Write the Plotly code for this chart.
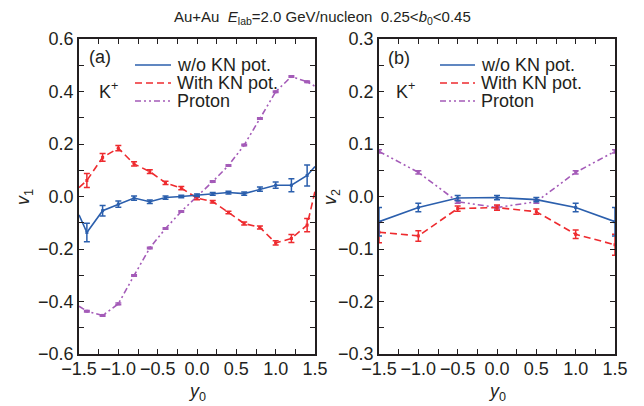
import plotly.graph_objects as go

# ---------------- data ----------------
# panel (a): v1 vs y0
xa = [-1.4, -1.2, -1.0, -0.8, -0.6, -0.4, -0.2, 0.0, 0.2, 0.4, 0.6, 0.8, 1.0, 1.2, 1.4]
v1_wo = [-0.137, -0.054, -0.029, -0.006, -0.020, -0.004, 0.000, 0.005, 0.010, 0.015, 0.011, 0.028, 0.043, 0.043, 0.080]
v1_wo_err = [0.035, 0.020, 0.012, 0.008, 0.007, 0.006, 0.005, 0.005, 0.005, 0.005, 0.006, 0.008, 0.012, 0.025, 0.040]
v1_with = [0.061, 0.149, 0.184, 0.124, 0.095, 0.052, 0.032, -0.006, -0.020, -0.061, -0.103, -0.118, -0.177, -0.160, -0.109]
v1_with_err = [0.027, 0.015, 0.010, 0.008, 0.007, 0.006, 0.006, 0.006, 0.005, 0.005, 0.006, 0.006, 0.008, 0.015, 0.025]
v1_p = [-0.437, -0.453, -0.409, -0.301, -0.196, -0.122, -0.057, 0.000, 0.057, 0.118, 0.196, 0.297, 0.399, 0.457, 0.437]
v1_p_err = [0.003] * 15
# values where the curves meet the frame (y0 = -1.5 and 1.5)
xa_edge = [-1.5, 1.5]
v1_wo_edge = [-0.070, 0.114]
v1_with_edge = [0.034, 0.020]
v1_p_edge = [-0.418, 0.420]

# panel (b): v2 vs y0
xb = [-1.5, -1.0, -0.5, 0.0, 0.5, 1.0, 1.5]
v2_wo = [-0.048, -0.021, -0.003, -0.002, -0.006, -0.021, -0.048]
v2_wo_err = [0.027, 0.008, 0.005, 0.004, 0.004, 0.008, 0.027]
v2_with = [-0.068, -0.075, -0.023, -0.021, -0.029, -0.072, -0.092]
v2_with_err = [0.020, 0.010, 0.005, 0.005, 0.005, 0.008, 0.020]
v2_p = [0.086, 0.046, -0.010, -0.021, -0.010, 0.046, 0.086]
v2_p_err = [0.003] * 7

names = ["w/o KN pot.", "With KN pot.", "Proton"]

# ---------------- styles ----------------
BLUE = "#2b5fad"
RED = "#ee2b2f"
PURPLE = "#a45bb8"
AX = "#231f20"
FONT = "Liberation Sans, Arial, sans-serif"
dash_red = "7px,4px"
dash_pur = "6px,3px,2px,3px,2px,3px"
colors = [BLUE, RED, PURPLE]
dashes = ["solid", dash_red, dash_pur]

fig = go.Figure()

def add_series(x, y, err, x_line, y_line, color, dash, name, xa_, ya_, width=1.6):
    fig.add_trace(go.Scatter(x=x_line, y=y_line, mode="lines", name=name, showlegend=False,
                             line=dict(color=color, width=width, dash=dash),
                             xaxis=xa_, yaxis=ya_))
    fig.add_trace(go.Scatter(x=x, y=y, mode="markers", showlegend=False,
                             marker=dict(color=color, size=3, symbol="square"),
                             error_y=dict(type="data", array=err, color=color,
                                          thickness=1.5, width=3),
                             xaxis=xa_, yaxis=ya_, hoverinfo="skip"))

# panel (a)
add_series(xa, v1_p, v1_p_err, [xa_edge[0]] + xa + [xa_edge[1]],
           [v1_p_edge[0]] + v1_p + [v1_p_edge[1]], PURPLE, dash_pur, names[2], "x", "y")
add_series(xa, v1_with, v1_with_err, [xa_edge[0]] + xa + [xa_edge[1]],
           [v1_with_edge[0]] + v1_with + [v1_with_edge[1]], RED, dash_red, names[1], "x", "y")
add_series(xa, v1_wo, v1_wo_err, [xa_edge[0]] + xa + [xa_edge[1]],
           [v1_wo_edge[0]] + v1_wo + [v1_wo_edge[1]], BLUE, "solid", names[0], "x", "y")

# panel (b)
add_series(xb, v2_p, v2_p_err, xb, v2_p, PURPLE, dash_pur, names[2], "x2", "y2")
add_series(xb, v2_with, v2_with_err, xb, v2_with, RED, dash_red, names[1], "x2", "y2")
add_series(xb, v2_wo, v2_wo_err, xb, v2_wo, BLUE, "solid", names[0], "x2", "y2")

# the page body has an 8px margin: figure is placed at (8, 8)
OFF = 8
W, H = 644 - OFF, 406 - OFF
def px(x):
    return (x - OFF) / W
def py(y):
    return 1 - (y - OFF) / H

common = dict(showline=True, linecolor=AX, linewidth=1.5, mirror="ticks",
              ticks="inside", ticklen=5, tickwidth=1.2, tickcolor=AX,
              showgrid=False, zeroline=False, tickformat=".1f", automargin=False,
              tickfont=dict(size=18, family=FONT, color=AX))

xcommon = dict(common, range=[-1.5, 1.5], dtick=0.5, tick0=-1.5, ticklabelstandoff=-2,
               minor=dict(ticks="inside", ticklen=5, dtick=0.25, tickcolor=AX, tickwidth=1.2))

fig.update_layout(
    width=W, height=H,
    margin=dict(l=0, r=0, t=0, b=0),
    paper_bgcolor="white", plot_bgcolor="white",
    font=dict(family=FONT, color=AX, size=18),
    showlegend=False,
    xaxis=dict(xcommon, domain=[px(79), px(315)], anchor="y"),
    yaxis=dict(common, domain=[py(354), py(39)], anchor="x", range=[-0.6, 0.6], dtick=0.2,
               minor=dict(ticks="inside", ticklen=5, dtick=0.1, tickcolor=AX, tickwidth=1.2)),
    xaxis2=dict(xcommon, domain=[px(379), px(615)], anchor="y2"),
    yaxis2=dict(common, domain=[py(354), py(39)], anchor="x2", range=[-0.3, 0.3], dtick=0.1,
                minor=dict(ticks="inside", ticklen=5, dtick=0.05, tickcolor=AX, tickwidth=1.2)),
)

ann = dict(showarrow=False, xref="paper", yref="paper", xanchor="center", yanchor="middle",
           font=dict(size=18, family=FONT, color=AX))
fig.add_annotation(ann, x=px(322), y=py(17),
                   text="Au+Au\u00a0\u00a0<i>E</i><sub>lab</sub>=2.0 GeV/nucleon\u00a0\u00a00.25&lt;<i>b</i><sub>0</sub>&lt;0.45",
                   font=dict(size=15, family=FONT, color=AX))
# axis titles
fig.add_annotation(ann, x=px(197), y=py(392), text="<i>y</i><sub>0</sub>")
fig.add_annotation(ann, x=px(497), y=py(392), text="<i>y</i><sub>0</sub>")
fig.add_annotation(ann, x=px(24), y=py(197), text="<i>v</i><sub>1</sub>", textangle=-90)
fig.add_annotation(ann, x=px(331), y=py(197), text="<i>v</i><sub>2</sub>", textangle=-90)
# panel labels
fig.add_annotation(ann, x=px(100), y=py(57), text="(a)")
fig.add_annotation(ann, x=px(97), y=py(90), xanchor="left", text="K<sup>+</sup>")
fig.add_annotation(ann, x=px(399), y=py(58), text="(b)")
fig.add_annotation(ann, x=px(394), y=py(90), xanchor="left", text="K<sup>+</sup>")

# manual legends (one per panel)
rows = [65, 83, 101]
for (x0, x1, xt) in [(135, 171, 175), (440, 475, 479)]:
    for i in range(3):
        fig.add_shape(type="line", xref="paper", yref="paper",
                      x0=px(x0), x1=px(x1), y0=py(rows[i]), y1=py(rows[i]),
                      line=dict(color=colors[i], width=1.6, dash=dashes[i]))
        fig.add_annotation(ann, x=px(xt), y=py(rows[i]), xanchor="left", yanchor="middle",
                           text=names[i])

fig.write_html("out.html")
